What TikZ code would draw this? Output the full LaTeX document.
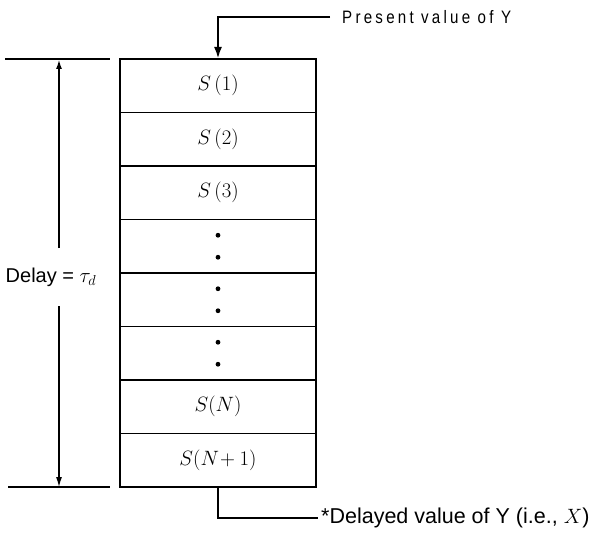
\documentclass[tikz,border=0pt]{standalone}
\usepackage{fontspec}
\setmainfont{Liberation Sans}
\newfontfamily\spacedsans[FakeStretch=0.84,LetterSpace=18]{Liberation Sans}
\usetikzlibrary{arrows.meta}
\begin{document}
\begin{tikzpicture}[>={Latex[length=10pt,width=6pt]}, x=1pt, y=-1pt,
    cell/.style={draw, line width=1.3pt, minimum width=196pt, minimum height=53.5pt, inner sep=0pt, outer sep=0pt, font=\fontsize{20.74}{24}\selectfont},
    lbl/.style={font=\fontsize{21.5}{24}\selectfont}]
\useasboundingbox (0,0) rectangle (591,540);
% stack of storage cells
\node[cell] (s1) at (218,85.75) {$S\,(1)$};
\node[cell] (s2) at (218,139.25) {$S\,(2)$};
\node[cell] (s3) at (218,192.75) {$S\,(3)$};
\node[cell] (d1) at (218,246.25) {};
\node[cell] (d2) at (218,299.75) {};
\node[cell] (d3) at (218,353.25) {};
\node[cell] (sn) at (218,406.75) {$S(N)$};
\node[cell] (sn1) at (218,460.25) {$S(N\!+1)$};
\foreach \r in {d1,d2,d3}{
    \fill ([yshift=11pt]\r.center) circle (2.4pt);
    \fill ([yshift=-11pt]\r.center) circle (2.4pt);
}
% input and output
\node[font=\spacedsans\fontsize{18}{22}\selectfont, anchor=west, inner xsep=12pt] (pv) at (330,17) {Present value of Y};
\draw[-{Latex[length=12pt,width=8pt]}, line width=2.4pt] (pv.west) -| (s1.north);
\node[lbl, anchor=west, inner xsep=3pt] (dv) at (318,518) {*Delayed value of Y (i.e., $X$)};
\draw[line width=1.8pt] (sn1.south) |- (dv.west);
% delay
\coordinate (lt1) at (5,59);
\coordinate (lt2) at (110,59);
\coordinate (lb1) at (8,487);
\coordinate (lb2) at (110,487);
\coordinate (dtop) at (59,59);
\coordinate (dbot) at (59,487);
\coordinate (gtop) at (59,248);
\coordinate (gbot) at (59,306);
\draw[line width=2.2pt] (lt1) -- (lt2);
\draw[line width=1.6pt] (lb1) -- (lb2);
\node[font=\fontsize{20}{24}\selectfont] (dl) at (51,277) {Delay = $\tau_d$};
\draw[->, line width=2.2pt] (gtop) -- (dtop);
\draw[->, line width=1.2pt] (gbot) -- (dbot);
\end{tikzpicture}
\end{document}
